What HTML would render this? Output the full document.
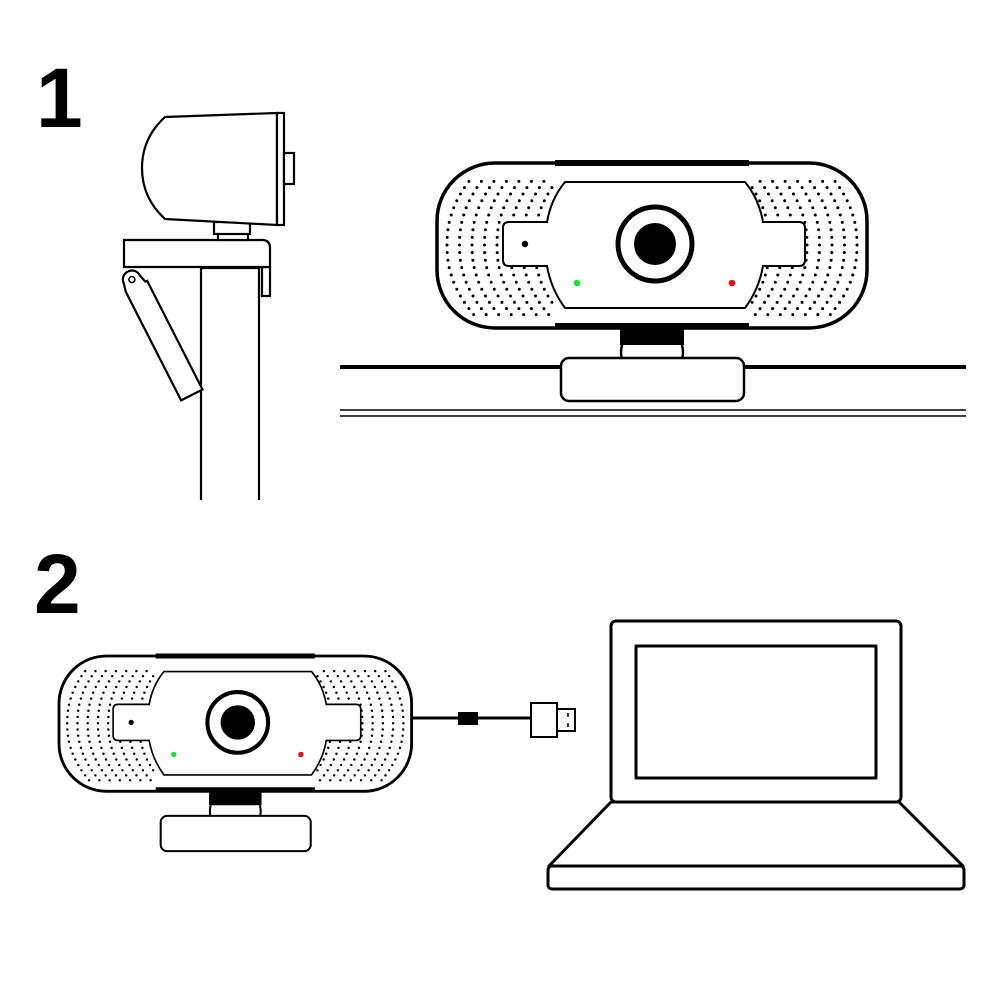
<!DOCTYPE html>
<html><head><meta charset="utf-8"><style>
html,body{margin:0;padding:0;background:#fff;width:1000px;height:1000px;overflow:hidden}
svg{display:block}
.n{font-family:"Liberation Sans",sans-serif;font-weight:bold;font-size:84px;fill:#000}
</style></head><body>
<svg id="s" width="1000" height="1000" viewBox="0 0 1000 1000" xmlns="http://www.w3.org/2000/svg">
<defs>
<clipPath id="bc"><rect x="0" y="0" width="430" height="165" rx="58"/></clipPath>
<g id="cam">
 <path d="M185 182 Q183 190 185 196 L245 196 Q247 190 245 182" fill="#fff" stroke="#000" stroke-width="2.5"/>
 <rect x="183" y="163" width="64" height="19" fill="#000"/>
 <rect x="124" y="195" width="183" height="43" rx="8" fill="#fff" stroke="#000" stroke-width="2.5"/>
 <rect x="0" y="0" width="430" height="165" rx="58" fill="#fff" stroke="#000" stroke-width="3.5"/>
 <g id="dots" clip-path="url(#bc)" fill="#000"></g>
 <path d="M118 0 L312 0" stroke="#000" stroke-width="6"/>
 <path d="M118 163 L312 163" stroke="#000" stroke-width="6"/>
 <path d="M128 19 Q114 36 110 59 L72 59 Q66 59 66 65 L66 97 Q66 103 72 103 L110 103 Q114 126 128 145 L308 145 Q322 126 326 103 L362 103 Q368 103 368 97 L368 65 Q368 59 362 59 L326 59 Q322 36 308 19 Z" fill="#fff" stroke="#000" stroke-width="2"/>
 <circle cx="218" cy="81" r="37" fill="#fff" stroke="#000" stroke-width="5"/>
 <circle cx="218" cy="81" r="21" fill="#000"/>
 <circle cx="88" cy="81" r="3.2" fill="#000"/>
 <circle cx="140" cy="120" r="3.3" fill="#1ee03a"/>
 <circle cx="295" cy="120" r="3.3" fill="#e81010"/>
</g>
</defs>

<text class="n" x="36" y="127">1</text>
<text class="n" x="34" y="613">2</text>

<g fill="#fff" stroke="#000" stroke-width="2.2">
 <path d="M201 500 L201 268 L259 268 L259 500"/>
 <path d="M262 267 L270 267 L270 296 L262 296 Z"/>
 <path d="M124 240 L262 240 Q270 240 270 248 L270 267 L124 267 Z"/>
 <g transform="translate(131,280) rotate(-27)">
  <path d="M-8 0 A9 9 0 0 1 10 0 L12 8 L14 8 L14 130 L-10 130 L-10 8 Z"/>
  <circle cx="1" cy="0" r="3" stroke-width="1.5"/>
 </g>
 <rect x="218" y="233" width="30" height="7"/>
 <rect x="214" y="222" width="36" height="12"/>
 <path d="M165 117 L277 113 L277 225 L165 219 Q142 198 142 168 Q142 138 165 117 Z"/>
 <rect x="277" y="113" width="7" height="112"/>
 <rect x="284" y="153" width="10" height="31"/>
</g>

<line x1="340" y1="367" x2="966" y2="367" stroke="#000" stroke-width="4"/>
<line x1="340" y1="410" x2="966" y2="410" stroke="#000" stroke-width="1.5"/>
<line x1="340" y1="416" x2="966" y2="416" stroke="#000" stroke-width="1.5"/>

<use href="#cam" x="437" y="163"/>
<g transform="translate(59,656) scale(0.82)"><use href="#cam"/></g>

<line x1="412" y1="718" x2="531" y2="718" stroke="#000" stroke-width="3"/>
<rect x="458" y="712" width="20" height="13" fill="#000"/>
<rect x="531" y="703" width="26" height="34" fill="#fff" stroke="#000" stroke-width="2"/>
<rect x="557" y="709" width="18" height="22" fill="#fff" stroke="#000" stroke-width="2"/>
<line x1="568" y1="713" x2="568" y2="717" stroke="#000" stroke-width="1.5"/>
<line x1="568" y1="723" x2="568" y2="727" stroke="#000" stroke-width="1.5"/>

<g fill="#fff" stroke="#000" stroke-width="3" stroke-linejoin="round">
 <path d="M611 802 L549 866 L963 866 L899 802 Z"/>
 <rect x="548" y="866" width="416" height="23" rx="4"/>
 <rect x="611" y="621" width="290" height="181" rx="5"/>
 <rect x="636" y="646" width="240" height="132"/>
</g>
</svg>
<script>
(function(){
 var g=document.getElementById('dots'),h='';
 function xf(d,y){var t=(y-82)/70;return d+27*Math.pow(Math.abs(t),2.2);}
 function put(x,y){
  if((y<21||y>143)&&x>116)return;
  h+='<circle cx="'+x.toFixed(1)+'" cy="'+y.toFixed(1)+'" r="1.5"/>';
  h+='<circle cx="'+(430-x).toFixed(1)+'" cy="'+y.toFixed(1)+'" r="1.5"/>';
 }
 for(var k=0;k<9;k++){
  var d=10+k*12.5;
  for(var s=-1;s<=1;s+=2){
   var y=82,px=xf(d,82),py=82,acc=0;
   while(true){
    var ny=y+s*0.2, nx=xf(d,ny);
    acc+=Math.hypot(nx-px,ny-py);px=nx;py=ny;y=ny;
    if(y<13||y>152)break;
    if(acc>=7.5){acc=0;put(nx,ny);}
   }
  }
  put(xf(d,82),82);
 }
 g.innerHTML=h;
})();
</script>
</body></html>
